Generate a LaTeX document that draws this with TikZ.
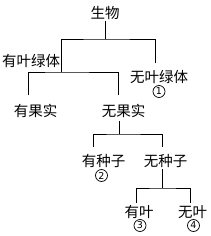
\documentclass[tikz,border=0pt]{standalone}
\usepackage{fontspec}
\newfontfamily\cjk{Noto Sans CJK SC}
\newfontfamily\dejavu{DejaVu Sans}
\usetikzlibrary{calc}
\tikzset{
  lbl/.style={inner sep=0pt,font=\cjk\fontsize{14.5}{14.5}\selectfont},
  num/.style={circle,draw=black,line width=0.7pt,inner sep=0pt,minimum size=12pt,
    font=\dejavu\fontsize{9.5}{9.5}\selectfont},
  link/.style={draw=black,line width=0.8pt},
}

\begin{document}
\begin{tikzpicture}[x=1pt,y=-1pt]
    \useasboundingbox (0,0) rectangle (210,236);
    % labels
    \node[lbl] (root) at (105,12.5) {生物};
    \node[lbl] (lv) at (31,61) {有叶绿体};
    \node[lbl] (nolv) at (159,76.5) {无叶绿体};
    \node[num] (n1) at (159,91.5) {1};
    \node[lbl] (fruit) at (35.5,110.5) {有果实};
    \node[lbl] (nofruit) at (123.5,110.5) {无果实};
    \node[lbl] (seed) at (103.5,161) {有种子};
    \node[num] (n2) at (101.5,175.5) {2};
    \node[lbl] (noseed) at (165.5,161) {无种子};
    \node[lbl] (leaf) at (139,212) {有叶};
    \node[num] (n3) at (140,225.5) {3};
    \node[lbl] (noleaf) at (192.5,212) {无叶};
    \node[num] (n4) at (193.5,225.5) {4};
    % junctions and line ends
    \coordinate (j1) at (105,39);
    \coordinate (j2) at (61,72);
    \coordinate (j3) at (119,134);
    \coordinate (j4) at (162,188);
    \coordinate (tnolv) at (155,63);
    \coordinate (tfruit) at (28,95);
    \coordinate (tnofruit) at (118,95);
    \coordinate (tseed) at (93,147);
    \coordinate (tnoseed) at (162,147);
    \coordinate (tleaf) at (136,203);
    \coordinate (tnoleaf) at (190,203);
    % tree
    \draw[link,shorten <=2pt] (root.south) -- (j1);
    \draw[link] (tnolv) |- (j1) -| (j2);
    \draw[link] (tfruit) |- (j2) -| (tnofruit);
    \draw[link,shorten <=4pt] (nofruit.south -| j3) -- (j3);
    \draw[link] (tseed) |- (j3) -| (tnoseed);
    \draw[link,shorten <=1pt] (noseed.south -| j4) -- (j4);
    \draw[link] (tleaf) |- (j4) -| (tnoleaf);
\end{tikzpicture}
\end{document}
